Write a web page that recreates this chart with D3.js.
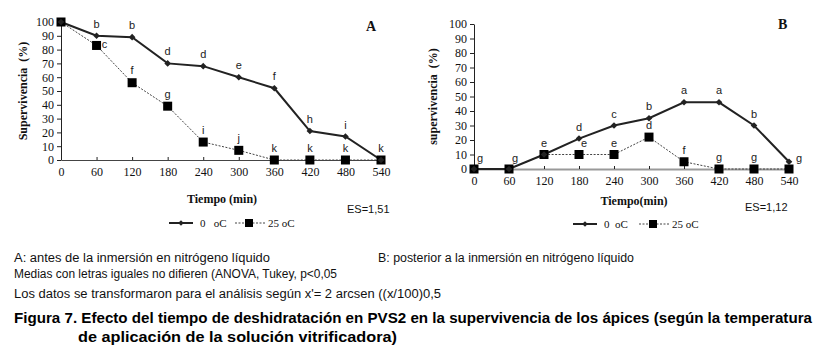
<!DOCTYPE html>
<meta charset="utf-8">
<script src="https://d3js.org/d3.v7.min.js"></script>
<style>
  body { margin: 0; background: #fff; }
  svg { display: block; }
</style>
<div id="chart"></div>
<script>

// tiempo de deshidratacion (min)
var times = [0, 60, 120, 180, 240, 300, 360, 420, 480, 540];
var yTicks = [0, 10, 20, 30, 40, 50, 60, 70, 80, 90, 100];

// A: antes de la inmersion
var a0C = [100, 90, 89, 70, 68, 60, 52, 21, 17, 0];
var a25C = [100, 83, 56, 39, 13, 7, 0, 0, 0, 0];
var a0Letters = ["", "b", "b", "d", "d", "e", "f", "h", "i", ""];
var a25Letters = ["", "c", "f", "g", "i", "j", "k", "k", "k", "k"];

// B: posterior a la inmersion
var b0C = [0, 0, 10, 21, 30, 35, 46, 46, 30, 5];
var b25C = [0, 0, 10, 10, 10, 22, 5, 0, 0, 0];
var b0Letters = ["", "", "", "d", "c", "b", "a", "a", "b", "g"];
var b25Letters = ["g", "g", "e", "e", "e", "d", "f", "g", "g", ""];

var svg = d3.select("#chart").append("svg")
    .attr("width", 829)
    .attr("height", 354);

svg.append("rect").attr("width", 829).attr("height", 354).attr("fill", "#fff");

function drawPanel(p) {
  var x = d3.scaleLinear().domain([0, 540]).range([p.x0, p.x1]);
  var y = d3.scaleLinear().domain([0, 100]).range([p.y0, p.y1]);
  var g = svg.append("g");

  // y axis
  var ya = g.append("g")
      .attr("transform", "translate(" + p.x0 + ",0)")
      .call(d3.axisLeft(y).tickValues(yTicks).tickSizeInner(4).tickSizeOuter(0).tickPadding(3));
  ya.select(".domain").attr("stroke", "#222");
  ya.selectAll(".tick line").attr("stroke", "#222");
  ya.selectAll("text").attr("font-family", "Liberation Serif").attr("font-size", 12).attr("fill", "#111");

  // x axis
  var xa = g.append("g")
      .attr("transform", "translate(0," + p.y0 + ")")
      .call(d3.axisBottom(x).tickValues(times).tickSizeInner(-3).tickSizeOuter(0).tickPadding(7));
  xa.select(".domain").attr("stroke", p.xAxisColor).attr("stroke-width", p.xAxisWidth);
  xa.selectAll(".tick line").attr("stroke", "#222");
  xa.selectAll("text").attr("font-family", "Liberation Serif").attr("font-size", 12).attr("fill", "#111");

  var line = d3.line()
      .x(function(d, i) { return x(times[i]); })
      .y(function(d) { return y(d); });

  // 25 oC dashed
  g.append("path").datum(p.s25)
      .attr("d", line)
      .attr("fill", "none")
      .attr("stroke", "#444")
      .attr("stroke-width", 1)
      .attr("stroke-dasharray", "2,1.5");

  // 0 oC solid
  g.append("path").datum(p.s0)
      .attr("d", line)
      .attr("fill", "none")
      .attr("stroke", "#222")
      .attr("stroke-width", 2);

  g.selectAll(".sq").data(p.s25).enter().append("rect")
      .attr("x", function(d, i) { return x(times[i]) - 4.5; })
      .attr("y", function(d) { return y(d) - 4.5; })
      .attr("width", 9)
      .attr("height", 9)
      .attr("fill", "#000");

  g.selectAll(".dm").data(p.s0).enter().append("path")
      .attr("d", d3.symbol().type(d3.symbolDiamond2).size(28))
      .attr("transform", function(d, i) { return "translate(" + x(times[i]) + "," + y(d) + ")"; })
      .attr("fill", "#222");

  // letras de Tukey
  function addLetters(vals, labs, off) {
    labs.forEach(function(l, i) {
      if (!l) return;
      var o = off[i] || [0, -8];
      g.append("text")
          .attr("x", x(times[i]) + o[0])
          .attr("y", y(vals[i]) + o[1])
          .attr("text-anchor", "middle")
          .attr("font-family", "Liberation Sans")
          .attr("font-size", 11)
          .attr("fill", "#222")
          .text(l);
    });
  }
  addLetters(p.s0, p.l0, p.off0);
  addLetters(p.s25, p.l25, p.off25);

  // titles
  g.append("text")
      .attr("transform", "translate(" + p.ytX + "," + ((p.y0 + p.y1) / 2) + ") rotate(-90)")
      .attr("text-anchor", "middle")
      .attr("font-family", "Liberation Serif")
      .attr("font-weight", "bold")
      .attr("font-size", 12)
      .attr("fill", "#111")
      .attr("xml:space", "preserve")
      .text(p.yTitle);

  g.append("text")
      .attr("x", p.xtX).attr("y", p.xtY)
      .attr("text-anchor", "middle")
      .attr("font-family", "Liberation Serif")
      .attr("font-weight", "bold")
      .attr("font-size", 12)
      .attr("fill", "#111")
      .text(p.xTitle);

  g.append("text")
      .attr("x", p.tagX).attr("y", p.tagY)
      .attr("font-family", "Liberation Serif")
      .attr("font-weight", "bold")
      .attr("font-size", 14)
      .attr("fill", "#111")
      .text(p.tag);

  g.append("text")
      .attr("x", p.esX).attr("y", p.esY)
      .attr("font-family", "Liberation Sans")
      .attr("font-size", 11)
      .attr("fill", "#111")
      .text(p.es);

  // legend
  var lg = g.append("g").attr("transform", "translate(" + p.legX + "," + p.legY + ")");
  lg.append("line").attr("x1", 0).attr("x2", 24).attr("stroke", "#222").attr("stroke-width", 2);
  lg.append("path").attr("d", d3.symbol().type(d3.symbolDiamond2).size(20)).attr("transform", "translate(12,0)").attr("fill", "#222");
  lg.append("text").attr("x", 31).attr("y", 4).attr("font-family", "Liberation Serif").attr("font-size", 11)
      .attr("fill", "#111").attr("xml:space", "preserve").text(p.leg0);
  lg.append("line").attr("x1", 66).attr("x2", 96).attr("stroke", "#444").attr("stroke-dasharray", "2,1.5");
  lg.append("rect").attr("x", 76).attr("y", -4).attr("width", 8).attr("height", 8).attr("fill", "#000");
  lg.append("text").attr("x", 99).attr("y", 4).attr("font-family", "Liberation Serif").attr("font-size", 11)
      .attr("fill", "#111").text("25 oC");
}

drawPanel({
  x0: 61, x1: 381, y0: 160, y1: 22,
  s0: a0C, s25: a25C, l0: a0Letters, l25: a25Letters,
  off0: {}, off25: {1: [8, 3], 2: [0, -9]},
  xAxisColor: "#444", xAxisWidth: 1,
  yTitle: "Supervivencia  (%)", ytX: 27,
  xTitle: "Tiempo (min)", xtX: 222, xtY: 203,
  tag: "A", tagX: 366, tagY: 31,
  es: "ES=1,51", esX: 347, esY: 213,
  legX: 169, legY: 223, leg0: "0   oC"
});

drawPanel({
  x0: 474, x1: 789, y0: 169, y1: 24,
  s0: b0C, s25: b25C, l0: b0Letters, l25: b25Letters,
  off0: {9: [10, 0]}, off25: {0: [6, -7], 1: [6, -7], 3: [5, -8]},
  xAxisColor: "#999", xAxisWidth: 2,
  yTitle: "supervivencia  (%)", ytX: 437,
  xTitle: "Tiempo(min)", xtX: 634, xtY: 205,
  tag: "B", tagX: 778, tagY: 29,
  es: "ES=1,12", esX: 745, esY: 211,
  legX: 573, legY: 224, leg0: "0  oC"
});

// notes
var notes = [
  {t: "A: antes de la inmersión en nitrógeno líquido", x: 14, y: 262, w: 256},
  {t: "B: posterior a la inmersión en nitrógeno líquido", x: 378, y: 262, w: 256},
  {t: "Medias con letras iguales no difieren (ANOVA, Tukey, p<0,05", x: 14, y: 278, w: 323},
  {t: "Los datos se transformaron para el análisis según x'= 2 arcsen ((x/100)0,5", x: 14, y: 298, w: 427}
];
svg.selectAll(".note").data(notes).enter().append("text")
    .attr("x", function(d) { return d.x; })
    .attr("y", function(d) { return d.y; })
    .attr("textLength", function(d) { return d.w; })
    .attr("lengthAdjust", "spacingAndGlyphs")
    .attr("font-family", "Liberation Sans")
    .attr("font-size", 12)
    .attr("fill", "#111")
    .text(function(d) { return d.t; });

var caption = [
  {t: "Figura 7. Efecto del tiempo de deshidratación en PVS2 en la supervivencia de los ápices (según la temperatura", x: 14, y: 323, w: 798},
  {t: "de aplicación de la solución vitrificadora)", x: 78, y: 342, w: 319}
];
svg.selectAll(".cap").data(caption).enter().append("text")
    .attr("x", function(d) { return d.x; })
    .attr("y", function(d) { return d.y; })
    .attr("textLength", function(d) { return d.w; })
    .attr("lengthAdjust", "spacingAndGlyphs")
    .attr("font-family", "Liberation Sans")
    .attr("font-weight", "bold")
    .attr("font-size", 15)
    .attr("fill", "#000")
    .text(function(d) { return d.t; });

</script>
